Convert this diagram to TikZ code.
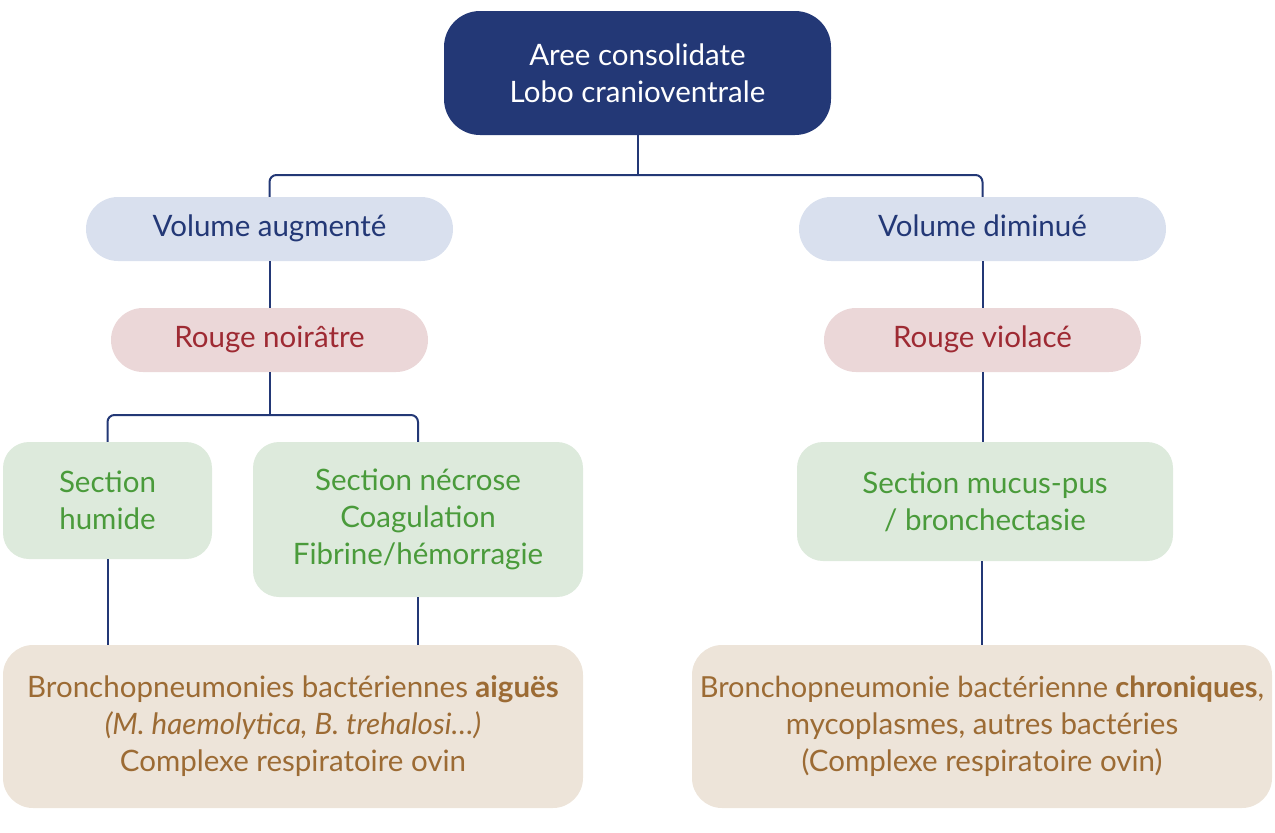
\documentclass[tikz,border=0pt]{standalone}
\usepackage{fontspec}
\setmainfont{Lato}
\usetikzlibrary{positioning}
\definecolor{navy}{RGB}{35,56,118}
\definecolor{volfill}{RGB}{217,224,238}
\definecolor{rougefill}{RGB}{235,215,216}
\definecolor{rougetext}{RGB}{158,42,51}
\definecolor{secfill}{RGB}{221,234,220}
\definecolor{sectext}{RGB}{74,155,59}
\definecolor{diagfill}{RGB}{237,228,217}
\definecolor{diagtext}{RGB}{156,107,52}

\begin{document}
\begin{tikzpicture}[x=1pt,y=-1pt,
    box/.style={inner sep=0pt, align=center, font=\fontsize{29.5}{37}\selectfont},
    pill/.style={box, text height=20pt, text depth=6pt, rounded corners=32pt, minimum height=64pt},
    topbox/.style={box, fill=navy, text=white, rounded corners=36pt},
    volbox/.style={pill, fill=volfill, text=navy, minimum width=367pt},
    rougebox/.style={pill, fill=rougefill, text=rougetext, minimum width=317pt},
    secbox/.style={box, fill=secfill, text=sectext, rounded corners=26pt},
    diagbox/.style={box, fill=diagfill, text=diagtext, rounded corners=30pt, minimum width=580pt, minimum height=163pt},
    conn/.style={navy, line width=2pt, rounded corners=7pt}]
\useasboundingbox (0,0) rectangle (1275,833);

% levels
\node[topbox, minimum width=387pt, minimum height=124pt] (top) at (637.5,73) {Aree consolidate\\Lobo cranioventrale};

\node[volbox] (vaug) at (269.5,229) {Volume augmenté};
\node[volbox] (vdim) at (982.5,229) {Volume diminué};

\node[rougebox] (rnoir) at (269.5,340) {Rouge noirâtre};
\node[rougebox] (rviol) at (982.5,340) {Rouge violacé};

\node[secbox, minimum width=209pt, minimum height=117pt] (shum) at (107.5,500.5) {Section\\humide};
\node[secbox, minimum width=330pt, minimum height=155pt] (snec) at (418,519.5) {Section nécrose\\Coagulation\\Fibrine/hémorragie};
\node[secbox, minimum width=376pt, minimum height=119pt] (smuc) at (985,501.5) {Section mucus-pus\\/ bronchectasie};

\node[diagbox] (aigu) at (293,726.5) {Bronchopneumonies bactériennes \textbf{aiguës}\\\textit{(M. haemolytica, B. trehalosi…)}\\Complexe respiratoire ovin};
\node[diagbox] (chro) at (982,726.5) {\fontsize{29}{37}\selectfont Bronchopneumonie bactérienne \textbf{chroniques},\\mycoplasmes, autres bactéries\\(Complexe respiratoire ovin)};

% connectors
\coordinate (j1) at (637.5,175);
\coordinate (j2) at (269.5,415);
\draw[conn] (top.south) -- (j1);
\draw[conn] (vaug.north) -- (vaug.north |- j1) -- (vdim.north |- j1) -- (vdim.north);
\draw[conn] (vaug.south) -- (rnoir.north);
\draw[conn] (vdim.south) -- (rviol.north);
\draw[conn] (rnoir.south) -- (j2);
\draw[conn] (shum.north) -- (shum.north |- j2) -- (snec.north |- j2) -- (snec.north);
\draw[conn] (rviol.south) -- (rviol.south |- smuc.north);
\draw[conn] (shum.south) -- (shum.south |- aigu.north);
\draw[conn] (snec.south) -- (snec.south |- aigu.north);
\draw[conn] (smuc.south -| chro.north) -- (chro.north);
\end{tikzpicture}
\end{document}
